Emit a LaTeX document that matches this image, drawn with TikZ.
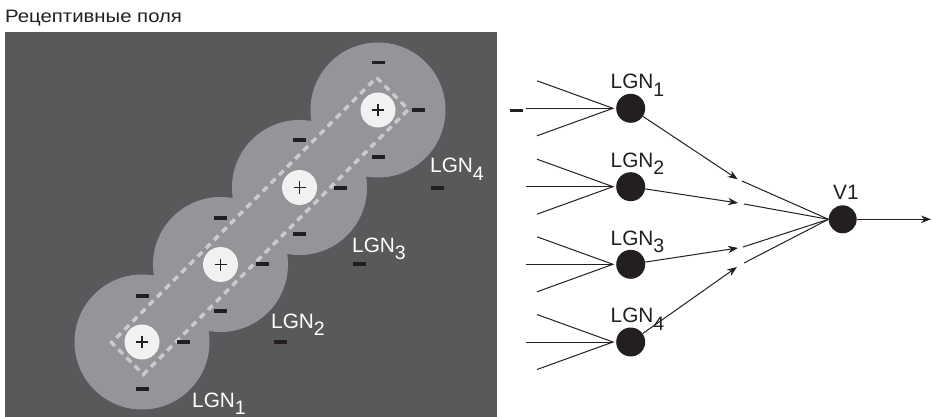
\documentclass[tikz,border=0pt]{standalone}
\usepackage{fontspec}
\setmainfont{Liberation Sans}
\usetikzlibrary{arrows.meta}
\definecolor{panelc}{HTML}{58595B}
\definecolor{ringc}{HTML}{939598}
\definecolor{whitec}{HTML}{F1F1F2}
\definecolor{dashc}{HTML}{C9CACC}
\definecolor{inkc}{HTML}{231F20}
\newcommand\lgnlab[1]{LGN\raisebox{-7.5pt}{\fontsize{19.5}{19.5}\selectfont #1}}
\tikzset{
  ring/.style={fill=ringc},
  center/.style={fill=whitec},
  minusbar/.style={fill=inkc, minimum width=13pt, minimum height=3.3pt, inner sep=0pt, draw=none, rectangle},
  pluslines/.style={draw=inkc, line width=1.2pt},
  paneltext/.style={text=white, font=\fontsize{20.8}{20.8}\selectfont, anchor=base west, inner sep=0pt},
  nettext/.style={text=inkc, font=\fontsize{20.8}{20.8}\selectfont, anchor=base west, inner sep=0pt},
  neuron/.style={circle, fill=inkc, minimum size=29pt, inner sep=0pt},
  wire/.style={draw=inkc, line width=1pt},
  arr/.style={wire, -{Stealth[length=10pt, width=7.5pt]}},
}
\begin{document}
\begin{tikzpicture}[x=1pt,y=-1pt]
\useasboundingbox (0,0) rectangle (932,417);
% title
\node[anchor=base west, inner sep=0pt, text=inkc, font=\fontsize{18}{18}\selectfont] (title) at (5,22.7) {\scalebox{1.13}[1]{Рецептивные поля}};
% panel
\fill[panelc] (5,32) rectangle (497,417);
% receptive field centres
\coordinate (c1) at (142,342);
\coordinate (c2) at (220.5,264.5);
\coordinate (c3) at (299.5,187.5);
\coordinate (c4) at (378,110);
\foreach \c in {c1,c2,c3,c4} \fill[ring] (\c) circle (67.5pt);
% dashed rectangle
\draw[dashc, line width=3.5pt, dash pattern=on 6.5pt off 5pt]
  (376.6,77.6) -- (408.4,109.4) -- (143.4,374.4) -- (111.6,342.6) -- cycle;
\foreach \c in {c1,c2,c3,c4} {
  \fill[center] (\c) circle (17.5pt);
  \draw[pluslines] ([xshift=-6pt]\c) -- ([xshift=6pt]\c);
  \draw[pluslines] ([yshift=-6pt]\c) -- ([yshift=6pt]\c);
}
% minus signs
\node[minusbar] (m1a) at (142,296) {};
\node[minusbar] (m1b) at (183,342) {};
\node[minusbar] (m1c) at (142,389) {};
\node[minusbar] (m2a) at (220.5,218) {};
\node[minusbar] (m2b) at (262,264) {};
\node[minusbar] (m2c) at (220.5,311) {};
\node[minusbar] (m3a) at (299.5,140) {};
\node[minusbar] (m3b) at (340,188) {};
\node[minusbar] (m3c) at (299.5,234) {};
\node[minusbar] (m4a) at (378,62.5) {};
\node[minusbar] (m4b) at (418,110) {};
\node[minusbar] (m4c) at (378,157) {};
\node[minusbar] (o2) at (280,342) {};
\node[minusbar] (o3) at (359,264) {};
\node[minusbar] (o4) at (437,188) {};
\node[minusbar] (o5) at (516.5,110.5) {};
% panel labels
\node[paneltext] (p1) at (192,407) {\lgnlab{1}};
\node[paneltext] (p2) at (271,328) {\lgnlab{2}};
\node[paneltext] (p3) at (352,252) {\lgnlab{3}};
\node[paneltext] (p4) at (430,173) {\lgnlab{4}};
% network
\foreach \i/\y in {1/108.3,2/186.7,3/264.3,4/342} {
  \coordinate (f\i) at (613,\y);
  \coordinate (ia\i) at (537,\y-27.5);
  \coordinate (ib\i) at (526,\y);
  \coordinate (ic\i) at (537,\y+27.5);
  \draw[wire] (ia\i) -- (f\i) -- (ic\i);
  \draw[wire] (ib\i) -- (f\i);
  \node[neuron] (n\i) at (630.7,\y) {};
  \node[nettext] (l\i) at (610.5,\y-19.3) {\lgnlab{\i}};
}
\node[neuron, minimum size=28pt] (v1) at (842.7,219.3) {};
\node[nettext] (lv) at (833,199) {V1};
\coordinate (t1) at (737.7,179.3);
\coordinate (t2) at (738,203);
\coordinate (t3) at (738,248);
\coordinate (t4) at (737,267);
\coordinate (s1) at (742,181);
\coordinate (s2) at (744,204);
\coordinate (s3) at (743,247);
\coordinate (s4) at (744,263);
\coordinate (out) at (931,219.3);
\foreach \i in {1,2,3,4} {
  \draw[arr] (n\i) -- (t\i);
  \draw[wire] (s\i) -- (v1.west);
}
\draw[arr] (v1) -- (out);
\end{tikzpicture}
\end{document}
